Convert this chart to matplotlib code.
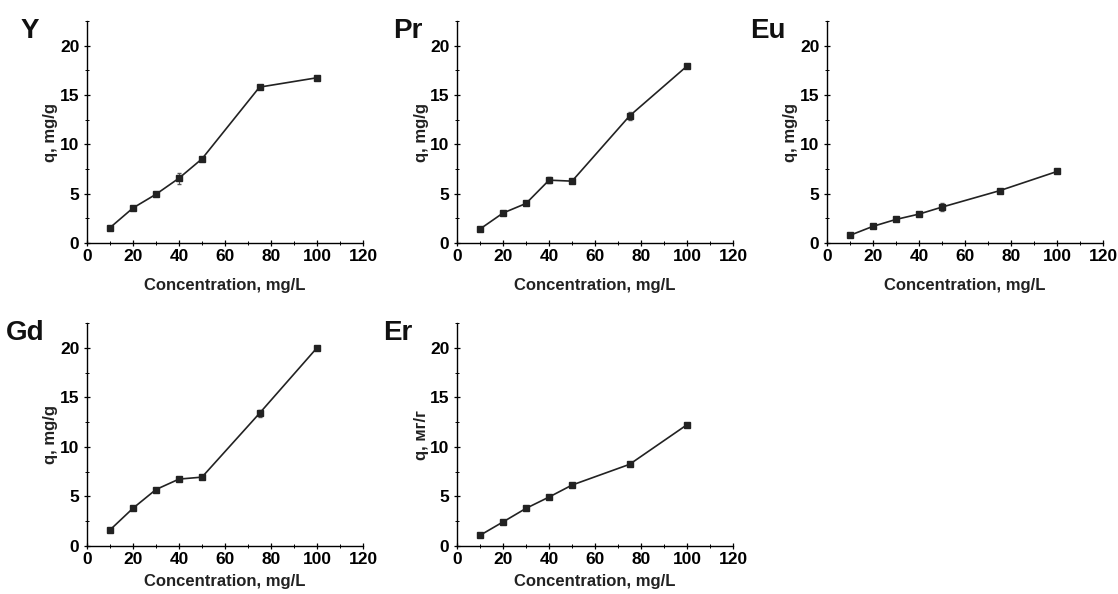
import numpy as np
import matplotlib.pyplot as plt
from matplotlib.ticker import MultipleLocator

plt.rcParams['font.family'] = ['Liberation Sans', 'DejaVu Sans']
plt.rcParams['font.weight'] = 'bold'

conc = [10, 20, 30, 40, 50, 75, 100]

q_y = [1.55, 3.55, 4.94, 6.57, 8.53, 15.8, 16.75]
err_y = [0.15, 0.15, 0.15, 0.55, 0.15, 0.15, 0.15]
q_pr = [1.42, 3.04, 4.01, 6.37, 6.27, 12.88, 17.94]
err_pr = [0.15, 0.15, 0.15, 0.3, 0.15, 0.4, 0.15]
q_eu = [0.78, 1.69, 2.39, 2.93, 3.64, 5.30, 7.25]
err_eu = [0.1, 0.1, 0.1, 0.15, 0.4, 0.15, 0.15]
q_gd = [1.62, 3.81, 5.70, 6.75, 6.95, 13.39, 20.0]
err_gd = [0.1, 0.15, 0.15, 0.1, 0.1, 0.35, 0.15]
q_er = [1.08, 2.43, 3.80, 4.94, 6.15, 8.24, 12.24]
err_er = [0.1, 0.1, 0.1, 0.1, 0.1, 0.2, 0.15]

# name, data, errors, y label, axes rect, label x offset, xlabel pad
panels = [
    ('Y', q_y, err_y, 'q, mg/g', [0.0778, 0.5909, 0.2469, 0.3737], -0.207, 10),
    ('Pr', q_pr, err_pr, 'q, mg/g', [0.4088, 0.5909, 0.2469, 0.3737], -0.18, 10),
    ('Eu', q_eu, err_eu, 'q, mg/g', [0.7397, 0.5909, 0.2469, 0.3737], -0.214, 10),
    ('Gd', q_gd, err_gd, 'q, mg/g', [0.0778, 0.0808, 0.2469, 0.3754], -0.225, 5),
    ('Er', q_er, err_er, 'q, мг/г', [0.4088, 0.0808, 0.2469, 0.3754], -0.214, 5),
]

fig = plt.figure(figsize=(11.18, 5.94), dpi=100)

for name, q, err, ylab, rect, lx, xpad in panels:
    ax = fig.add_axes(rect)
    ax.errorbar(conc, q, yerr=err, color='#222222', lw=1.2, marker='s', ms=4.5,
                ecolor='#555555', elinewidth=0.8, capsize=1.5)
    ax.set_xlim(0, 120)
    ax.set_ylim(0, 22.5)
    ax.set_xticks([0, 20, 40, 60, 80, 100, 120])
    ax.set_yticks([0, 5, 10, 15, 20])
    ax.xaxis.set_minor_locator(MultipleLocator(10))
    ax.yaxis.set_minor_locator(MultipleLocator(2.5))
    ax.tick_params(which='major', direction='inout', length=5, width=0.9,
                   labelsize=12.5, pad=2)
    ax.tick_params(axis='y', which='major', pad=3)
    ax.tick_params(which='minor', direction='inout', length=3, width=0.7)
    for lbl in ax.get_xticklabels() + ax.get_yticklabels():
        lbl.set_fontweight('bold')
    ax.spines['top'].set_visible(False)
    ax.spines['right'].set_visible(False)
    ax.spines['left'].set_linewidth(1.0)
    ax.spines['bottom'].set_linewidth(1.0)
    ax.set_xlabel('Concentration, mg/L', fontsize=12, fontweight='bold',
                  labelpad=xpad, color='#222222')
    ax.set_ylabel(ylab, fontsize=12, fontweight='bold', labelpad=1,
                  color='#222222')
    ax.text(lx, 1.015, name, transform=ax.transAxes, fontsize=20,
            fontweight='bold', ha='center', va='top', color='#111111')

fig.savefig('out.png', dpi=100)
